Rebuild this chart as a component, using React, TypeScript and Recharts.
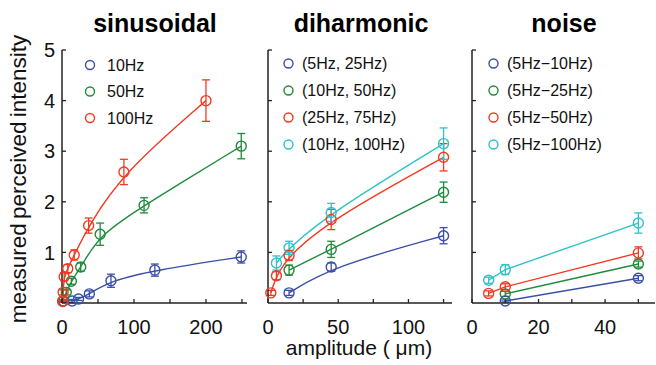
import { ErrorBar, Line, LineChart, XAxis, YAxis } from "recharts";

const FONT = '"Liberation Sans", Arial, Helvetica, sans-serif';
const BLUE = "#3b4fa8";
const GREEN = "#1f8b3b";
const RED = "#f23a22";
const CYAN = "#2ec3c9";
const AXIS = "#222";

// sinusoidal, amplitude in um
const sin10Amp = [2, 14, 23, 38, 68, 129, 249];
const sin10Val = [0.04, 0.04, 0.08, 0.18, 0.44, 0.65, 0.91];
const sin10Err = [0.02, 0.03, 0.03, 0.06, 0.13, 0.12, 0.12];
const sin50Amp = [1, 6, 13, 26, 53, 114, 249];
const sin50Val = [0.04, 0.21, 0.43, 0.71, 1.36, 1.93, 3.1];
const sin50Err = [0.02, 0.05, 0.06, 0.08, 0.22, 0.15, 0.25];
const sin100Amp = [1, 1.5, 3, 8, 17, 37, 86, 200];
const sin100Val = [0.03, 0.21, 0.52, 0.68, 0.95, 1.53, 2.59, 4.0];
const sin100Err = [0.02, 0.05, 0.08, 0.08, 0.1, 0.15, 0.25, 0.41];

// diharmonic
const di525Amp = [15, 45, 125];
const di525Val = [0.2, 0.71, 1.33];
const di525Err = [0.05, 0.08, 0.16];
const di1050Amp = [15, 45, 125];
const di1050Val = [0.65, 1.06, 2.19];
const di1050Err = [0.1, 0.16, 0.2];
const di2575Amp = [2, 6, 15, 45, 125];
const di2575Val = [0.2, 0.54, 0.94, 1.65, 2.88];
const di2575Err = [0.05, 0.08, 0.1, 0.2, 0.27];
const di10100Amp = [6, 15, 45, 125];
const di10100Val = [0.79, 1.09, 1.79, 3.15];
const di10100Err = [0.14, 0.13, 0.18, 0.31];

// noise
const no10Amp = [10, 50];
const no10Val = [0.04, 0.49];
const no10Err = [0.02, 0.05];
const no25Amp = [10, 50];
const no25Val = [0.18, 0.77];
const no25Err = [0.05, 0.06];
const no50Amp = [5, 10, 50];
const no50Val = [0.19, 0.32, 0.99];
const no50Err = [0.05, 0.06, 0.12];
const no100Amp = [5, 10, 50];
const no100Val = [0.45, 0.66, 1.58];
const no100Err = [0.06, 0.1, 0.2];

const yTicks = [1, 2, 3, 4, 5];

type Series = { name: string; color: string; amp: number[]; val: number[]; err: number[] };

const sinSeries: Series[] = [
  { name: "10Hz", color: BLUE, amp: sin10Amp, val: sin10Val, err: sin10Err },
  { name: "50Hz", color: GREEN, amp: sin50Amp, val: sin50Val, err: sin50Err },
  { name: "100Hz", color: RED, amp: sin100Amp, val: sin100Val, err: sin100Err },
];
const diSeries: Series[] = [
  { name: "(5Hz, 25Hz)", color: BLUE, amp: di525Amp, val: di525Val, err: di525Err },
  { name: "(10Hz, 50Hz)", color: GREEN, amp: di1050Amp, val: di1050Val, err: di1050Err },
  { name: "(25Hz, 75Hz)", color: RED, amp: di2575Amp, val: di2575Val, err: di2575Err },
  { name: "(10Hz, 100Hz)", color: CYAN, amp: di10100Amp, val: di10100Val, err: di10100Err },
];
const noSeries: Series[] = [
  { name: "(5Hz\u221210Hz)", color: BLUE, amp: no10Amp, val: no10Val, err: no10Err },
  { name: "(5Hz\u221225Hz)", color: GREEN, amp: no25Amp, val: no25Val, err: no25Err },
  { name: "(5Hz\u221250Hz)", color: RED, amp: no50Amp, val: no50Val, err: no50Err },
  { name: "(5Hz\u2212100Hz)", color: CYAN, amp: no100Amp, val: no100Val, err: no100Err },
];

const rows = (s: Series) => s.amp.map((x, i) => ({ x, y: s.val[i], err: s.err[i] }));

type PanelProps = {
  left: number;
  width: number;
  axisW: number;
  rightPad: number;
  xMax: number;
  xTicks: number[];
  xLabels: number[];
  showY: boolean;
  series: Series[];
  curve: "basis" | "linear";
};

function Panel({ left, width, axisW, rightPad, xMax, xTicks, xLabels, showY, series, curve }: PanelProps) {
  return (
    <div style={{ position: "absolute", left, top: 0 }}>
      <LineChart width={width} height={365} margin={{ top: 50, right: rightPad, bottom: 22, left: 0 }}>
        <XAxis
          dataKey="x"
          type="number"
          domain={[0, xMax]}
          ticks={xTicks}
          interval={0}
          height={40}
          tickSize={-4}
          tickMargin={21}
          tickFormatter={(v: number) => (xLabels.includes(v) ? String(v) : "")}
          axisLine={{ stroke: AXIS, strokeWidth: 1.5 }}
          tickLine={{ stroke: AXIS, strokeWidth: 1.3 }}
          tick={{ fontSize: 20, fill: "#111", fontFamily: FONT }}
        />
        <YAxis
          type="number"
          domain={[0, 5]}
          ticks={yTicks}
          interval={0}
          width={axisW}
          tickSize={-4}
          tickMargin={11}
          tickFormatter={(v: number) => (showY ? String(v) : "")}
          axisLine={{ stroke: AXIS, strokeWidth: 1.5 }}
          tickLine={{ stroke: AXIS, strokeWidth: 1.3 }}
          tick={{ fontSize: 20, fill: "#111", fontFamily: FONT }}
        />
        {series.map((s) => (
          <Line
            key={s.name}
            data={rows(s)}
            dataKey="y"
            name={s.name}
            type={curve}
            stroke={s.color}
            strokeWidth={1.4}
            dot={{ r: 5, fill: "none", stroke: s.color, strokeWidth: 1.4 }}
            activeDot={false}
            isAnimationActive={false}
          >
            <ErrorBar dataKey="err" direction="y" width={4} stroke={s.color} strokeWidth={1.3} isAnimationActive={false} />
          </Line>
        ))}
      </LineChart>
    </div>
  );
}

function LegendBlock({ series, cx, tx, top, step }: { series: Series[]; cx: number; tx: number; top: number; step: number }) {
  return (
    <g>
      {series.map((s, i) => (
        <g key={s.name}>
          <circle cx={cx} cy={top + i * step} r={4.5} fill="none" stroke={s.color} strokeWidth={1.4} />
          <text x={tx} y={top + i * step + 5.5} fontSize={16} fill="#111" fontFamily={FONT}>
            {s.name}
          </text>
        </g>
      ))}
    </g>
  );
}

export default function App() {
  return (
    <div style={{ position: "absolute", left: 0, top: 0, width: 656, height: 365, background: "#fff", overflow: "hidden" }}>
      <Panel left={0} width={250} axisW={62} rightPad={3} xMax={257} xTicks={[0, 50, 100, 150, 200, 250]} xLabels={[0, 100, 200]} showY series={sinSeries} curve="basis" />
      <Panel left={256} width={200} axisW={12} rightPad={4} xMax={131} xTicks={[0, 25, 50, 75, 100, 125]} xLabels={[0, 50, 100]} showY={false} series={diSeries} curve="basis" />
      <Panel left={460} width={196} axisW={12} rightPad={1} xMax={55} xTicks={[0, 10, 20, 30, 40, 50]} xLabels={[0, 20, 40]} showY={false} series={noSeries} curve="linear" />
      <svg width={656} height={365} style={{ position: "absolute", left: 0, top: 0, pointerEvents: "none" }}>
        <g fontFamily={FONT} fontWeight="bold" fontSize={25} fill="#000" textAnchor="middle">
          <text x={155} y={32}>sinusoidal</text>
          <text x={361} y={32}>diharmonic</text>
          <text x={564} y={32}>noise</text>
        </g>
        <LegendBlock series={sinSeries} cx={90} tx={107} top={65} step={26.5} />
        <LegendBlock series={diSeries} cx={288.5} tx={302} top={63.5} step={27} />
        <LegendBlock series={noSeries} cx={493.5} tx={507} top={63.5} step={27} />
        <text x={-179} y={26} transform="rotate(-90)" textAnchor="middle" fontSize={22.5} fontFamily={FONT} fill="#111" wordSpacing={-2}>
          measured perceived intensity
        </text>
        <text x={359} y={355} textAnchor="middle" fontSize={21} fontFamily={FONT} fill="#111">
          amplitude ( μm)
        </text>
      </svg>
    </div>
  );
}
